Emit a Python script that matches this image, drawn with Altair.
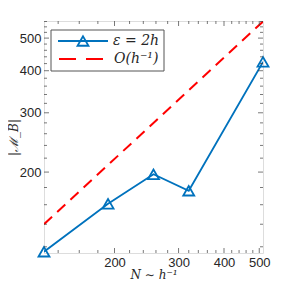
import altair as alt
import pandas as pd

# data
N_vals = [128, 192, 256, 320, 512]
M_vals = [116, 161, 197, 176, 425]
ref_N = [128, 512]
ref_M = [140, 560]
x_major = [200, 300, 400, 500]
y_major = [200, 300, 400, 500]
x_minor = [140, 160, 180, 220, 240, 260, 280, 320, 340, 360, 380, 420, 440, 460, 480]
y_minor = [120, 140, 160, 180, 220, 240, 260, 280, 320, 340, 360, 380, 420, 440, 460, 480, 520, 540, 560]
legend_labels = ["\u03b5 = 2h", "O(h\u207b\u00b9)"]

W, H = 219, 232
BLUE = "#0072BD"
RED = "#FF0000"
AX = "#404040"

xs = alt.Scale(type="log", domain=[128, 512], nice=False)
ys = alt.Scale(type="log", domain=[115, 562], nice=False)

df = pd.DataFrame({"N": N_vals, "M": M_vals})
dr = pd.DataFrame({"N": ref_N, "M": ref_M})

xaxis = alt.Axis(values=x_major, title="N \u223c h\u207b\u00b9", ticks=False, domain=False, grid=False,
                 labelFont="Liberation Sans", labelFontSize=13, labelColor="#262626", labelPadding=3,
                 titleFont="DejaVu Serif", titleFontStyle="italic", titleFontWeight="normal",
                 titleFontSize=12, titleColor="#262626", titlePadding=0)
yaxis = alt.Axis(values=y_major, title="|\u2133_B|", ticks=False, domain=False, grid=False,
                 labelFont="Liberation Sans", labelFontSize=13, labelColor="#262626", labelPadding=3,
                 titleFont="DejaVu Serif", titleFontStyle="italic", titleFontWeight="normal",
                 titleFontSize=12, titleColor="#262626", titleX=-24, titleY=116,
                 titleAngle=270, titleBaseline="bottom", titleAlign="center")

X = lambda f: alt.X(f, scale=xs, axis=xaxis)
Y = lambda f: alt.Y(f, scale=ys, axis=yaxis)

red_line = alt.Chart(dr).mark_line(color=RED, strokeWidth=2, strokeDash=[11, 7], clip=True).encode(
    x=X("N:Q"), y=Y("M:Q"))
blue_line = alt.Chart(df).mark_line(color=BLUE, strokeWidth=1.8, clip=True).encode(
    x=X("N:Q"), y=Y("M:Q"))
blue_pts = alt.Chart(df).mark_point(shape="triangle-up", filled=False, color=BLUE, size=120,
                                    strokeWidth=1.8, opacity=1).encode(
    x=X("N:Q"), y=Y("M:Q"))

def xticks(vals, size):
    d = pd.DataFrame({"v": vals})
    return [alt.Chart(d).mark_tick(color=AX, thickness=1, size=size, clip=True).encode(
        x=X("v:Q"), y=alt.value(yy)) for yy in (0, H)]

def yticks(vals, size):
    d = pd.DataFrame({"v": vals})
    return [alt.Chart(d).mark_tick(color=AX, thickness=1, size=size, clip=True).encode(
        y=Y("v:Q"), x=alt.value(xx)) for xx in (0, W)]

ticks = xticks(x_major, 10) + xticks(x_minor, 6) + yticks(y_major, 10) + yticks(y_minor, 6)

one = pd.DataFrame({"a": [0]})
leg_box = alt.Chart(one).mark_rect(fill="white", stroke="#555555", strokeWidth=1).encode(
    x=alt.value(7), x2=alt.value(120), y=alt.value(9), y2=alt.value(50))
leg_blue = alt.Chart(one).mark_rule(color=BLUE, strokeWidth=1.8).encode(
    x=alt.value(14), x2=alt.value(64), y=alt.value(20))
leg_tri = alt.Chart(one).mark_point(shape="triangle-up", filled=False, color=BLUE, size=120,
                                    strokeWidth=1.8, opacity=1).encode(
    x=alt.value(39), y=alt.value(20))
leg_red = alt.Chart(one).mark_rule(color=RED, strokeWidth=2, strokeDash=[17, 10]).encode(
    x=alt.value(15), x2=alt.value(64), y=alt.value(38))
leg_t1 = alt.Chart(one).mark_text(text=legend_labels[0], align="left", baseline="middle",
                                  font="DejaVu Serif", fontStyle="italic", fontSize=14,
                                  color="#262626").encode(x=alt.value(69), y=alt.value(20))
leg_t2 = alt.Chart(one).mark_text(text=legend_labels[1], align="left", baseline="middle",
                                  font="DejaVu Serif", fontStyle="italic", fontSize=14,
                                  color="#262626").encode(x=alt.value(70), y=alt.value(38))

chart = alt.layer(red_line, blue_line, blue_pts, *ticks, leg_box, leg_blue, leg_tri, leg_red,
                  leg_t1, leg_t2).properties(
    width=W, height=H,
    autosize=alt.AutoSizeParams(type="none"),
    padding={"left": 36, "top": 13, "right": 12, "bottom": 30},
).configure_view(stroke=AX, strokeWidth=1).configure(background="white")

chart.save("out.html", embed_options={"renderer": "svg", "actions": False})
